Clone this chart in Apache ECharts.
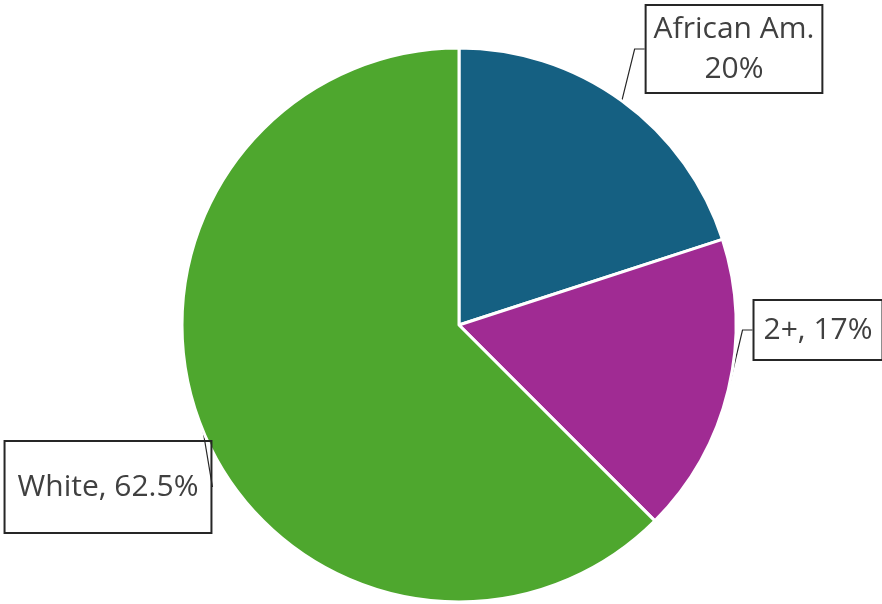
<!DOCTYPE html>
<html>
<head>
<meta charset="utf-8">
<script src="https://cdn.jsdelivr.net/npm/echarts@6/dist/echarts.min.js"></script>
<style>html,body{margin:0;padding:0;background:#fff}#c{width:882px;height:604px}</style>
</head>
<body>
<div id="c"></div>
<script>
const categories = ['African Am.', '2+', 'White'];
const values = [20, 17.5, 62.5];
const labelTexts = ['African Am.\n20%', '2+, 17%', 'White, 62.5%'];
const colors = ['#156082', '#A02B93', '#4EA72E'];

const labelBoxes = [
  { cx: 734, y: 5, padding: [4, 8] },
  { cx: 818, y: 300, padding: [10, 10] },
  { cx: 108, y: 441, padding: [26, 13] }
];

const chart = echarts.init(document.getElementById('c'));
chart.setOption({
  animation: false,
  series: [{
    type: 'pie',
    center: [459, 325],
    radius: 277,
    startAngle: 90,
    clockwise: true,
    avoidLabelOverlap: false,
    data: categories.map((c, i) => ({
      name: c,
      value: values[i],
      itemStyle: { color: colors[i] },
      label: { padding: labelBoxes[i].padding }
    })),
    itemStyle: { borderColor: '#fff', borderWidth: 3 },
    label: {
      show: true,
      formatter: p => labelTexts[p.dataIndex],
      fontFamily: 'Open Sans',
      fontSize: 30,
      lineHeight: 40,
      color: '#404040',
      align: 'center',
      borderColor: '#262626',
      borderWidth: 1,
      backgroundColor: 'transparent'
    },
    labelLine: {
      show: true,
      length: 10,
      length2: 10,
      lineStyle: { color: '#262626', width: 1.2 }
    },
    labelLayout: p => ({
      x: labelBoxes[p.dataIndex].cx,
      y: labelBoxes[p.dataIndex].y,
      align: 'center',
      verticalAlign: 'top'
    }),
    emphasis: { disabled: true }
  }]
});
</script>
</body>
</html>
